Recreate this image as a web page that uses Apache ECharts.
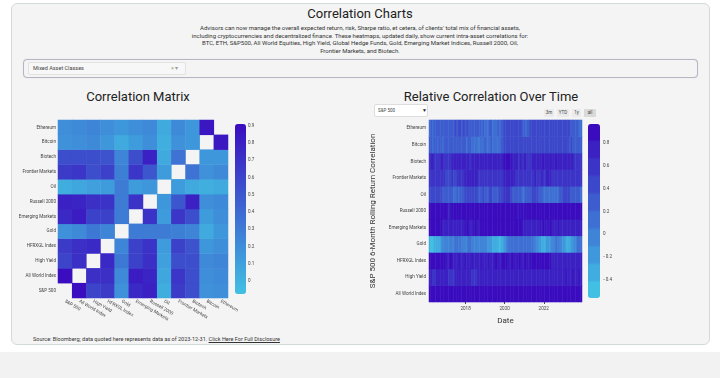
<!DOCTYPE html>
<html><head><meta charset="utf-8">
<script src="https://cdn.jsdelivr.net/npm/echarts@6/dist/echarts.min.js"></script>
<style>
html,body{margin:0;padding:0;width:720px;height:378px;overflow:hidden;background:#fff;font-family:Roboto,sans-serif;}
#card{position:absolute;left:11px;top:3px;width:699px;height:342px;background:#f4f4f4;border:1px solid #d3dada;border-radius:6px;box-sizing:border-box;}
#band{position:absolute;left:0;top:352px;width:720px;height:26px;background:#f2f2f2;}
#chart{position:absolute;left:0;top:0;width:720px;height:378px;}
.t{position:absolute;white-space:nowrap;}
#sel{position:absolute;left:23px;top:59px;width:675px;height:19px;border:1px solid #b4b6c2;border-radius:4px;box-sizing:border-box;background:#f4f4f4;box-shadow:0 0 1px #ccd;}
#selin{position:absolute;left:28px;top:62px;width:158px;height:13px;border:1px solid #e2e2e2;border-radius:2px;box-sizing:border-box;background:#f7f7f7;}
#spsel{position:absolute;left:374px;top:104px;width:54px;height:13px;border:1px solid #ddd;border-radius:2px;box-sizing:border-box;background:#fff;}
.btn{position:absolute;top:109px;height:8px;line-height:8px;font-size:4.5px;color:#444;background:#ebebeb;text-align:center;border-radius:1px;}
</style></head><body>
<div id="band"></div>
<div id="card"></div>
<div class="t" style="left:0;width:720px;top:6px;text-align:center;font-size:13px;color:#222;">Correlation Charts</div>
<div class="t" style="left:0;width:720px;top:24px;text-align:center;font-size:6px;line-height:7.7px;color:#333;">Advisors can now manage the overall expected return, risk, Sharpe ratio, et cetera, of clients' total mix of financial assets,<br>including cryptocurrencies and decentralized finance. These heatmaps, updated daily, show current intra-asset correlations for:<br>BTC, ETH, S&amp;P500, All World Equities, High Yield, Global Hedge Funds, Gold, Emerging Market Indices, Russell 2000, Oil,<br>Frontier Markets, and Biotech.</div>
<div id="sel"></div>
<div id="selin"></div>
<div class="t" style="left:33px;top:65px;font-size:5.5px;color:#444;">Mixed Asset Classes</div>
<div class="t" style="left:171px;top:64.5px;font-size:5.5px;color:#999;">× ▾</div>
<div class="t" style="left:0;width:276px;top:89px;text-align:center;font-size:13px;color:#222;">Correlation Matrix</div>
<div class="t" style="left:360px;width:262px;top:89px;text-align:center;font-size:13px;color:#222;">Relative Correlation Over Time</div>
<div id="spsel"></div>
<div class="t" style="left:378px;top:107.5px;font-size:4.5px;color:#444;">S&amp;P 500</div>
<div class="t" style="left:422px;top:106.5px;font-size:5px;color:#222;">▼</div>
<div class="btn" style="left:544px;width:10px;">3m</div>
<div class="btn" style="left:557px;width:12px;">YTD</div>
<div class="btn" style="left:572px;width:9px;">1y</div>
<div class="btn" style="left:584px;width:12px;background:#d9d9d9;">all</div>
<div class="t" style="left:33px;top:336px;font-size:5.5px;color:#333;">Source: Bloomberg; data quoted here represents data as of 2023-12-31. <span style="text-decoration:underline;">Click Here For Full Disclosure</span></div>
<div id="chart"></div>
<script>
// ---- Correlation matrix (left) ----
const assets = ['S&P 500','All World Index','High Yield','HFRXGL Index','Gold','Emerging Markets','Russell 2000','Oil','Frontier Markets','Biotech','Bitcoin','Ethereum'];
const corrSP500     = [null,0.9,0.6,0.65,0.18,0.75,0.8,0.03,0.65,0.55,0.18,0.2];
const corrAllWorld  = [0.9,null,0.72,0.72,0.22,0.82,0.78,0.06,0.68,0.55,0.2,0.22];
const corrHighYield = [0.6,0.72,null,0.75,0.32,0.62,0.72,0.1,0.55,0.55,0.22,0.25];
const corrHFRX      = [0.65,0.72,0.75,null,0.25,0.62,0.7,0.12,0.62,0.52,0.15,0.2];
const corrGold      = [0.18,0.22,0.32,0.25,null,0.3,0.3,0.3,0.28,0.25,0.05,0.15];
const corrEM        = [0.75,0.82,0.62,0.62,0.3,null,0.7,0.12,0.68,0.55,0.12,0.2];
const corrR2000     = [0.8,0.78,0.72,0.7,0.3,0.7,null,0.15,0.5,0.8,0.2,0.22];
const corrOil       = [0.03,0.06,0.1,0.12,0.3,0.12,0.15,null,0.12,0.05,0.02,0.05];
const corrFM        = [0.65,0.68,0.55,0.62,0.28,0.68,0.5,0.12,null,0.35,0.18,0.22];
const corrBiotech   = [0.55,0.55,0.55,0.52,0.25,0.55,0.8,0.05,0.35,null,0.15,0.15];
const corrBitcoin   = [0.18,0.2,0.22,0.15,0.05,0.12,0.2,0.02,0.18,0.15,null,0.85];
const corrEthereum  = [0.2,0.22,0.25,0.2,0.15,0.2,0.22,0.05,0.22,0.15,0.85,null];
const corrRows = [corrSP500,corrAllWorld,corrHighYield,corrHFRX,corrGold,corrEM,corrR2000,corrOil,corrFM,corrBiotech,corrBitcoin,corrEthereum];
const matrixTicks = [0,0.1,0.2,0.3,0.4,0.5,0.6,0.7,0.8,0.9];

// ---- Rolling correlation vs S&P 500 (right), monthly 2016-03 .. 2023-12 ----
const rollRows = ['All World Index','High Yield','HFRXGL Index','Gold','Emerging Markets','Russell 2000','Oil','Frontier Markets','Biotech','Bitcoin','Ethereum'];
const rollEthereum = [0.2,0.22,0.2,0.25,0.3,0.32,0.3,0.28,0.25,0.25, 0.22,0.25,0.28,0.25,0.22,0.3,0.38,0.35,0.4,0.38,0.35,0.4, 0.35,0.38,0.3,0.28,0.25,0.22,0.25,0.28,0.25,0.22,0.2,0.22, 0.2,0.18,0.2,0.22,0.25,0.2,0.18,0.2,0.22,0.2,0.25,0.3, 0.45,0.5,0.48,0.45,0.5,0.42,0.45,0.48,0.5,0.45,0.42,0.35, 0.3,0.15,0.25,0.32,0.42,0.45,0.48,0.45,0.42,0.5,0.45,0.48, 0.5,0.45,0.42,0.48,0.45,0.42,0.45,0.5,0.48,0.42,0.45,0.4, 0.45,0.42,0.4,0.38,0.42,0.3,0.28,0.25,0.3,0.22,0.2,0.15];
const rollBitcoin = [0.22,0.25,0.2,0.22,0.25,0.2,0.22,0.25,0.2,0.22, 0.28,0.3,0.32,0.28,0.25,0.22,0.25,0.3,0.28,0.25,0.22,0.25, 0.22,0.2,0.22,0.25,0.2,0.18,0.2,0.08,0.05,0.1,0.18,0.2, 0.22,0.2,0.18,0.2,0.22,0.2,0.18,0.15,0.18,0.2,0.22,0.3, 0.45,0.48,0.45,0.42,0.45,0.48,0.45,0.42,0.45,0.48,0.45,0.42, 0.45,0.4,0.42,0.45,0.48,0.45,0.42,0.45,0.42,0.4,0.45,0.42, 0.45,0.48,0.42,0.4,0.42,0.45,0.42,0.4,0.38,0.42,0.4,0.38, 0.4,0.42,0.38,0.4,0.35,0.38,0.32,0.3,0.35,0.28,0.3,0.25];
const rollBiotech = [0.65,0.68,0.7,0.65,0.62,0.6,0.65,0.68,0.7,0.65, 0.6,0.58,0.62,0.65,0.7,0.68,0.75,0.72,0.7,0.68,0.72,0.75, 0.7,0.72,0.68,0.65,0.7,0.72,0.7,0.68,0.72,0.7,0.68,0.7, 0.72,0.7,0.68,0.7,0.72,0.7,0.68,0.72,0.7,0.72,0.75,0.8, 0.88,0.9,0.85,0.88,0.82,0.8,0.72,0.68,0.7,0.65,0.68,0.65, 0.7,0.68,0.65,0.62,0.65,0.68,0.7,0.72,0.7,0.75,0.78,0.8, 0.82,0.8,0.78,0.8,0.82,0.8,0.78,0.8,0.82,0.8,0.78,0.75, 0.78,0.75,0.72,0.75,0.78,0.7,0.68,0.65,0.62,0.65,0.6,0.62];
const rollFrontier = [0.6,0.62,0.58,0.6,0.62,0.6,0.58,0.55,0.6,0.58, 0.5,0.48,0.45,0.5,0.52,0.48,0.5,0.55,0.52,0.55,0.58,0.6, 0.75,0.78,0.8,0.78,0.75,0.72,0.78,0.8,0.62,0.58,0.55,0.58, 0.6,0.58,0.55,0.6,0.62,0.58,0.6,0.62,0.58,0.6,0.62,0.65, 0.7,0.75,0.72,0.7,0.75,0.72,0.68,0.62,0.6,0.58,0.6,0.62, 0.6,0.58,0.62,0.65,0.62,0.6,0.65,0.68,0.65,0.62,0.65,0.68, 0.65,0.62,0.68,0.7,0.68,0.65,0.62,0.6,0.58,0.55,0.6,0.58, 0.55,0.52,0.58,0.6,0.55,0.52,0.55,0.6,0.58,0.55,0.52,0.55];
const rollOil = [0.45,0.48,0.45,0.42,0.45,0.4,0.38,0.42,0.35,0.32, 0.35,0.3,0.28,0.32,0.25,0.2,0.18,0.22,0.2,0.25,0.3,0.32, 0.4,0.42,0.38,0.4,0.45,0.42,0.4,0.38,0.35,0.32,0.35,0.38, 0.35,0.32,0.35,0.38,0.4,0.35,0.3,0.32,0.35,0.38,0.4,0.42, 0.55,0.58,0.55,0.52,0.45,0.35,0.3,0.28,0.32,0.3,0.22,0.18, 0.2,0.25,0.22,0.3,0.35,0.4,0.38,0.42,0.4,0.35,0.3,0.25, 0.2,0.15,0.12,0.18,0.15,0.2,0.18,0.12,0.15,0.2,0.25,0.35, 0.4,0.42,0.38,0.4,0.42,0.35,0.3,0.25,0.28,0.22,0.25,0.2];
const rollRussell = [0.92,0.94,0.95,0.93,0.92,0.94,0.95,0.93,0.9,0.88, 0.85,0.82,0.8,0.82,0.85,0.88,0.9,0.92,0.9,0.92,0.94,0.92, 0.9,0.88,0.9,0.92,0.94,0.92,0.9,0.88,0.9,0.92,0.94,0.95, 0.94,0.92,0.9,0.92,0.94,0.92,0.9,0.92,0.94,0.92,0.9,0.92, 0.94,0.95,0.94,0.92,0.9,0.92,0.88,0.85,0.82,0.85,0.82,0.85, 0.82,0.85,0.88,0.9,0.92,0.94,0.95,0.94,0.92,0.94,0.95,0.94, 0.92,0.94,0.95,0.94,0.92,0.94,0.95,0.94,0.92,0.9,0.88,0.9, 0.88,0.85,0.88,0.9,0.88,0.85,0.88,0.9,0.92,0.9,0.88,0.9];
const rollEmerging = [0.95,0.94,0.95,0.94,0.92,0.94,0.95,0.88,0.8,0.75, 0.72,0.75,0.78,0.72,0.7,0.75,0.78,0.75,0.72,0.75,0.78,0.8, 0.82,0.85,0.82,0.8,0.78,0.82,0.85,0.82,0.8,0.85,0.88,0.85, 0.88,0.85,0.88,0.9,0.88,0.85,0.88,0.9,0.88,0.86,0.88,0.9, 0.92,0.9,0.88,0.9,0.92,0.88,0.85,0.88,0.9,0.88,0.85,0.82, 0.78,0.75,0.72,0.7,0.75,0.72,0.7,0.75,0.78,0.8,0.82,0.8, 0.85,0.82,0.8,0.82,0.85,0.82,0.8,0.78,0.8,0.82,0.78,0.75, 0.72,0.7,0.72,0.75,0.72,0.7,0.72,0.75,0.78,0.72,0.7,0.72];
const rollGold = [-0.4,-0.45,-0.42,-0.38,-0.35,-0.3,-0.32,-0.2,-0.1,-0.05, 0.0,-0.05,0.02,0.05,0.0,0.05,0.1,0.08,0.05,0.1,0.05,0.0, 0.02,0.05,0.1,0.08,0.05,0.0,-0.05,-0.08,-0.1,-0.05,0.0,-0.05, -0.08,-0.1,-0.15,-0.2,-0.25,-0.3,-0.35,-0.4,-0.38,-0.42,-0.35,-0.3, -0.2,-0.1,0.05,0.1,0.15,0.12,0.1,0.15,0.12,0.1,0.08,0.1, 0.15,0.12,0.1,0.15,0.12,0.1,0.05,0.0,-0.1,-0.2,-0.25,-0.3, -0.35,-0.3,-0.25,-0.2,-0.15,-0.1,0.0,0.05,0.1,0.05,0.0,-0.1, -0.15,-0.2,-0.3,-0.35,-0.3,-0.25,-0.2,-0.1,0.0,0.1,0.15,0.2];
const rollHFRX = [0.92,0.94,0.95,0.94,0.92,0.94,0.92,0.9,0.88,0.85, 0.82,0.8,0.82,0.85,0.82,0.8,0.78,0.8,0.82,0.8,0.78,0.8, 0.82,0.8,0.78,0.8,0.82,0.8,0.78,0.75,0.78,0.8,0.82,0.8, 0.78,0.8,0.82,0.8,0.78,0.8,0.82,0.85,0.82,0.8,0.82,0.85, 0.88,0.85,0.82,0.8,0.82,0.85,0.82,0.8,0.82,0.85,0.82,0.8, 0.82,0.85,0.82,0.8,0.85,0.88,0.9,0.92,0.94,0.92,0.9,0.92, 0.94,0.92,0.9,0.88,0.85,0.8,0.75,0.72,0.7,0.72,0.75,0.72, 0.7,0.72,0.75,0.78,0.75,0.72,0.75,0.78,0.8,0.78,0.75,0.78];
const rollHighYield = [0.72,0.7,0.62,0.6,0.68,0.72,0.7,0.72,0.75,0.72, 0.7,0.72,0.65,0.62,0.6,0.62,0.7,0.72,0.7,0.72,0.75,0.72, 0.7,0.72,0.75,0.72,0.65,0.62,0.6,0.65,0.7,0.72,0.75,0.72, 0.7,0.72,0.74,0.72,0.7,0.72,0.75,0.72,0.7,0.72,0.74,0.75, 0.78,0.75,0.72,0.75,0.78,0.72,0.7,0.72,0.7,0.68,0.7,0.72, 0.7,0.72,0.75,0.72,0.7,0.72,0.75,0.72,0.74,0.72,0.7,0.75, 0.72,0.75,0.78,0.76,0.78,0.8,0.78,0.76,0.78,0.8,0.78,0.8, 0.78,0.8,0.82,0.8,0.78,0.8,0.82,0.8,0.78,0.8,0.82,0.8];
const rollAllWorld = [0.88,0.9,0.88,0.9,0.88,0.9,0.92,0.9,0.88,0.9, 0.9,0.92,0.96,0.96,0.96,0.96,0.96,0.96,0.96,0.96,0.96,0.96, 0.96,0.96,0.95,0.96,0.96,0.97,0.96,0.96,0.96,0.96,0.95,0.96, 0.96,0.96,0.96,0.97,0.96,0.96,0.96,0.96,0.96,0.96,0.96,0.96, 0.97,0.97,0.96,0.96,0.96,0.96,0.96,0.96,0.96,0.96,0.96,0.96, 0.96,0.96,0.96,0.96,0.96,0.95,0.96,0.96,0.96,0.96,0.96,0.96, 0.96,0.96,0.96,0.96,0.97,0.96,0.96,0.96,0.96,0.96,0.96,0.96, 0.96,0.96,0.96,0.96,0.96,0.96,0.96,0.96,0.96,0.96,0.96,0.96];
const rollSeries = [rollAllWorld,rollHighYield,rollHFRX,rollGold,rollEmerging,rollRussell,rollOil,rollFrontier,rollBiotech,rollBitcoin,rollEthereum];
const yearTicks = ['2018','2020','2022'];
const rollTicks = [0.8,0.6,0.4,0.2,0,-0.2,-0.4];

// month categories
const months = [];
for (let y = 2016; y <= 2023; y++) {
  for (let m = 1; m <= 12; m++) {
    if (y === 2016 && m < 3) continue;
    months.push(y + '-' + (m < 10 ? '0' + m : m));
  }
}

const matrixData = [];
corrRows.forEach((row, i) => row.forEach((v, j) => { if (v !== null) matrixData.push([j, i, v]); }));
const rollData = [];
rollSeries.forEach((row, r) => row.forEach((v, m) => rollData.push([m, r, v])));

const c0 = [65, 192, 227], c1 = [58, 12, 190];
function mix(t) { return 'rgb(' + c0.map((a, k) => Math.round(a + (c1[k] - a) * t)).join(',') + ')'; }
const bands = [];
for (let i = 0; i < 10; i++) bands.push(mix(i / 9));
const stepped = [];
bands.forEach(c => { for (let k = 0; k < 24; k++) stepped.push(c); });

const fmt = v => (v < 0 ? '\u2212' + Math.abs(v) : String(v));
const lab = { fontSize: 4.6, color: '#444', fontFamily: 'Roboto' };

const chart = echarts.init(document.getElementById('chart'));
chart.setOption({
  animation: false,
  grid: [
    { left: 58, top: 120, width: 170, height: 178 },
    { left: 429, top: 120, width: 153, height: 182 },
    { left: 245, top: 124, width: 1, height: 170 },
    { left: 599, top: 124, width: 1, height: 174 }
  ],
  xAxis: [
    { gridIndex: 0, type: 'category', data: assets, axisLine: { show: false }, axisTick: { show: false },
      axisLabel: Object.assign({ rotate: -30, margin: 3, interval: 0 }, lab), splitLine: { show: false } },
    { gridIndex: 1, type: 'category', data: months, axisLine: { show: false },
      axisTick: { show: true, alignWithLabel: true, length: 2, lineStyle: { color: '#444' }, interval: (i, v) => yearTicks.indexOf(v.slice(0, 4)) >= 0 && v.slice(5) === '01' },
      axisLabel: Object.assign({ margin: 4, interval: (i, v) => yearTicks.indexOf(v.slice(0, 4)) >= 0 && v.slice(5) === '01', formatter: v => v.slice(0, 4) }, lab),
      name: 'Date', nameLocation: 'middle', nameGap: 15, nameTextStyle: { fontSize: 8, color: '#333', fontFamily: 'Roboto' } },
    { gridIndex: 2, type: 'value', show: false },
    { gridIndex: 3, type: 'value', show: false }
  ],
  yAxis: [
    { gridIndex: 0, type: 'category', data: assets, axisLine: { show: false }, axisTick: { show: false },
      axisLabel: Object.assign({ margin: 2, interval: 0 }, lab) },
    { gridIndex: 1, type: 'category', data: rollRows, axisLine: { show: false }, axisTick: { show: false },
      axisLabel: Object.assign({ margin: 3, interval: 0 }, lab),
      name: 'S&P 500 6-Month Rolling Return Correlation', nameLocation: 'middle', nameGap: 52,
      nameTextStyle: { fontSize: 8, color: '#333', fontFamily: 'Roboto' } },
    { gridIndex: 2, type: 'value', min: -0.076, max: 0.91, position: 'right', axisLine: { show: false }, axisTick: { show: false }, splitLine: { show: false },
      axisLabel: Object.assign({ margin: 2, customValues: matrixTicks, formatter: fmt }, lab) },
    { gridIndex: 3, type: 'value', min: -0.56, max: 0.97, position: 'right', axisLine: { show: false }, axisTick: { show: false }, splitLine: { show: false },
      axisLabel: Object.assign({ margin: 3, customValues: rollTicks, formatter: fmt }, lab) }
  ],
  visualMap: [
    { type: 'continuous', seriesIndex: 0, min: -0.076, max: 0.91, calculable: false, left: 235, top: 124, itemWidth: 11, itemHeight: 170, padding: 0,
      inRange: { color: ['#41c0e3', '#3d66d1', '#3a0cbf'] }, hoverLink: false },
    { type: 'continuous', seriesIndex: 1, min: -0.56, max: 0.97, calculable: false, left: 588, top: 124, itemWidth: 12, itemHeight: 174, padding: 0,
      inRange: { color: stepped }, hoverLink: false }
  ],
  series: [
    { type: 'heatmap', xAxisIndex: 0, yAxisIndex: 0, data: matrixData, emphasis: { disabled: true } },
    { type: 'heatmap', xAxisIndex: 1, yAxisIndex: 1, data: rollData, emphasis: { disabled: true } }
  ]
});
</script>
</body></html>
